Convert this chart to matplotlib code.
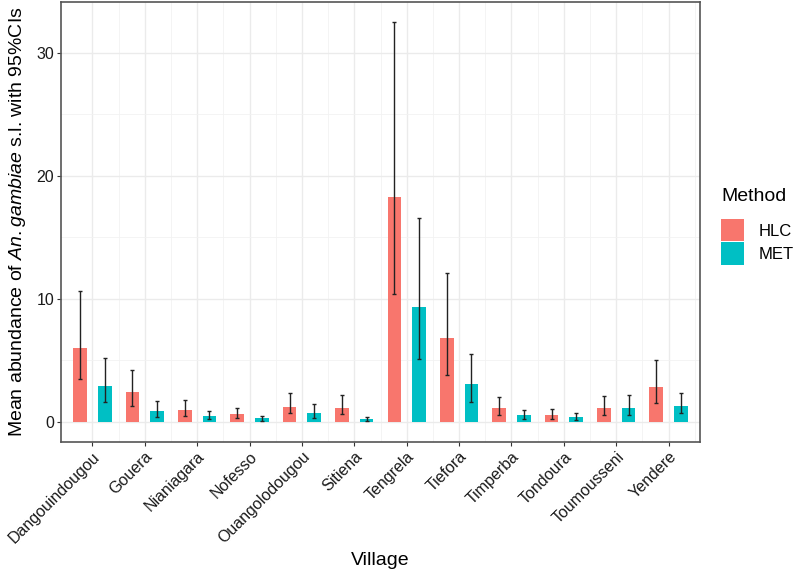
import numpy as np
import matplotlib
matplotlib.use("Agg")
import matplotlib.pyplot as plt
from matplotlib.patches import Patch

villages = ["Dangouindougou", "Gouera", "Nianiagara", "Nofesso", "Ouangolodougou",
            "Sitiena", "Tengrela", "Tiefora", "Timperba", "Tondoura",
            "Toumousseni", "Yendere"]

hlc_mean = [6.04, 2.41, 1.00, 0.65, 1.25, 1.16, 18.3, 6.85, 1.16, 0.54, 1.16, 2.85]
hlc_low = [3.47, 1.33, 0.51, 0.33, 0.70, 0.62, 10.4, 3.82, 0.57, 0.22, 0.57, 1.57]
hlc_high = [10.65, 4.25, 1.79, 1.16, 2.33, 2.22, 32.5, 12.1, 2.06, 1.06, 2.11, 5.04]

met_mean = [2.95, 0.92, 0.49, 0.30, 0.73, 0.24, 9.35, 3.06, 0.54, 0.38, 1.16, 1.27]
met_low = [1.60, 0.43, 0.24, 0.08, 0.30, 0.10, 5.10, 1.65, 0.22, 0.16, 0.57, 0.70]
met_high = [5.23, 1.71, 0.89, 0.49, 1.44, 0.38, 16.6, 5.50, 0.98, 0.70, 2.22, 2.33]

hlc_col = "#F8766D"
met_col = "#00BFC4"

plt.rcParams['font.family'] = ['Liberation Sans', 'DejaVu Sans']
plt.rcParams['mathtext.fontset'] = 'custom'
plt.rcParams['mathtext.it'] = 'Liberation Sans:italic'
plt.rcParams['mathtext.rm'] = 'Liberation Sans'

fig = plt.figure(figsize=(7.96, 5.79), dpi=100)
ax = fig.add_axes([61 / 796, 1 - 442 / 579, 639 / 796, 440 / 579])

x = np.arange(len(villages))
off = 0.235
w = 0.26

ax.bar(x - off, hlc_mean, width=w, color=hlc_col, zorder=2)
ax.bar(x + off, met_mean, width=w, color=met_col, zorder=2)

for means, lo, hi, sh in [(hlc_mean, hlc_low, hlc_high, -off), (met_mean, met_low, met_high, off)]:
    means = np.array(means)
    err = [means - np.array(lo), np.array(hi) - means]
    ax.errorbar(x + sh, means, yerr=err, fmt='none', ecolor='#222222',
                elinewidth=1.0, capsize=1.2, capthick=1.0, zorder=3)

ax.set_xlim(-0.6, len(villages) - 0.4)
ymax = 32.5
ax.set_ylim(-0.05 * ymax, ymax * 1.05)
ax.set_yticks([0, 10, 20, 30])
ax.set_yticks([5, 15, 25], minor=True)
ax.set_xticks(x)
ax.set_xticks(x + 0.5, minor=True)
ax.set_xticklabels(villages, rotation=45, ha='right', rotation_mode='anchor', fontsize=11.5)
ax.tick_params(axis='x', which='minor', length=0)
ax.tick_params(axis='y', which='minor', length=0)
ax.tick_params(which='major', length=3, color='#333333', labelsize=11.5, labelcolor='#1a1a1a', pad=2)

ax.grid(True, which='major', color='#EBEBEB', linewidth=1.0, zorder=0)
ax.grid(True, which='minor', color='#F2F2F2', linewidth=0.6, zorder=0)
ax.set_axisbelow(True)
for s in ax.spines.values():
    s.set_color('#555555')
    s.set_linewidth(1.2)

ax.set_xlabel("Village", fontsize=14, labelpad=4)
ax.set_ylabel("Mean abundance of $\\mathit{An.gambiae}$ s.l. with 95%CIs", fontsize=14, labelpad=6)

handles = [Patch(facecolor=hlc_col, edgecolor='none', label='HLC'),
           Patch(facecolor=met_col, edgecolor='none', label='MET')]
leg = fig.legend(handles=handles, title='Method', loc='upper left',
                 bbox_to_anchor=(721 / 796, 1 - 188 / 579), frameon=False,
                 borderpad=0, borderaxespad=0,
                 fontsize=12, title_fontsize=14, handlelength=1.35, handleheight=1.7,
                 handletextpad=0.9, labelspacing=0.05, alignment='left')
leg._legend_box.sep = 10

fig.savefig("out.png", dpi=100)
